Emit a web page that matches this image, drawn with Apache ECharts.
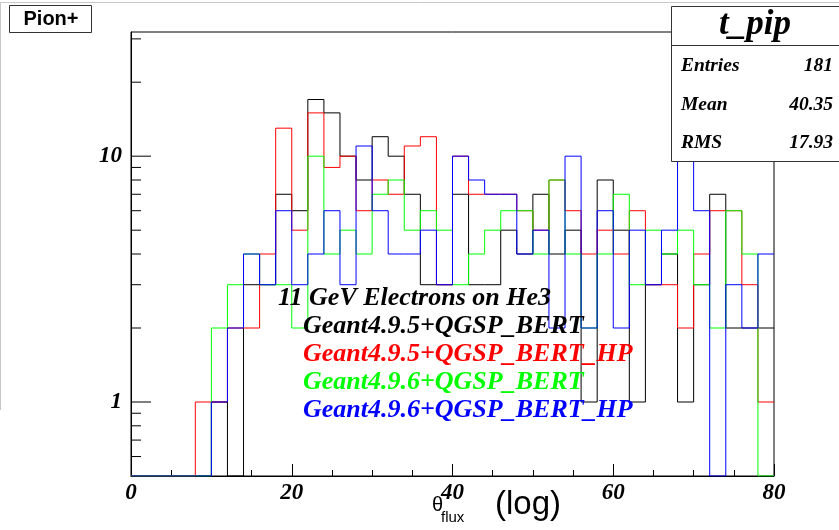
<!DOCTYPE html>
<html><head><meta charset="utf-8">
<script src="https://cdn.jsdelivr.net/npm/echarts@6/dist/echarts.min.js"></script>
<style>html,body{margin:0;padding:0;background:#fff}#c{width:839px;height:530px}</style>
</head><body><div id="c"></div>
<script>
// bin lower edges (bin width 2) and upper limit
const binLow = [0,2,4,6,8,10,12,14,16,18,20,22,24,26,28,30,32,34,36,38,40,42,44,46,48,50,52,54,56,58,60,62,64,66,68,70,72,74,76,78];
const xMax = 80;
// bin contents
const g495Bert   = [0,0,0,0,0,1,0,3,3,7,6,17,15,10,8,12,10,7,3,3,7,3,3,5,4,7,4,5,1,8,5,1,3,4,1,3,7,2,2,2];
const g495BertHP = [0,0,0,0,1,1,2,2,4,13,5,15,9,10,6,8,7,11,12,3,10,7,7,7,6,5,8,6,4,5,4,6,3,3,2,4,6,6,3,1];
const g496Bert   = [0,0,0,0,0,2,3,4,3,3,2,10,4,5,4,7,8,5,6,5,3,4,5,6,6,4,8,4,2,4,7,3,5,4,5,3,2,6,4,0];
const g496BertHP = [0,0,0,0,0,1,2,4,3,6,3,4,6,3,11,6,4,4,5,3,10,8,7,7,4,5,2,10,2,6,2,5,3,5,10,6,0,3,2,4];
const seriesNames = ['Geant4.9.5+QGSP_BERT','Geant4.9.5+QGSP_BERT_HP','Geant4.9.6+QGSP_BERT','Geant4.9.6+QGSP_BERT_HP'];
const seriesColors = ['#000000','#ff0000','#00ff00','#0000ff'];
const xTicks = [0,20,40,60,80];
const yMin = 0.5, yMax = 32;
const yMajorTicks = [1,10];
const yMinorTicks = [0.6,0.7,0.8,0.9,2,3,4,5,6,7,8,9,20,30];
const stats = {title:'t_pip', rows:[['Entries','181'],['Mean','40.35'],['RMS','17.93']]};

function toSteps(vals){
  const pts = binLow.map((x,i)=>[x, vals[i] > 0 ? vals[i] : yMin]);
  pts.push([xMax, pts[pts.length-1][1]]);
  return pts;
}
const serif = '"Liberation Serif","Times New Roman",serif';
const sans = '"Liberation Sans",Arial,sans-serif';
const allVals = [g495Bert,g495BertHP,g496Bert,g496BertHP];
const lineSeries = allVals.map((v,i)=>({
  type:'line', name:seriesNames[i], step:'end', data:toSteps(v), symbol:'none',
  lineStyle:{color:seriesColors[i], width:1}, itemStyle:{color:seriesColors[i]},
  animation:false, z:2+i
}));
function tickSeries(vals, len){
  return {type:'custom', silent:true, animation:false, z:1, data: vals.map(v=>[0,v]),
    renderItem:(params, api)=>{
      const p = api.coord([0, api.value(1)]);
      return {type:'line', shape:{x1:p[0], y1:p[1], x2:p[0]+len, y2:p[1]}, style:{stroke:'#000', lineWidth:1}};
    }};
}
function txt(x,y,text,font,color,align){
  return {type:'text', x:x, y:y, z:120, style:{text:text, font:font, fill:color||'#000',
    textAlign:align||'left', align:align||'left', textVerticalAlign:'middle', verticalAlign:'middle'}};
}
const legendFont = 'italic bold 26px ' + serif;
const graphics = [
  {type:'line', z:50, shape:{x1:0,y1:2.5,x2:839,y2:2.5}, style:{stroke:'#c8c8c8', lineWidth:1}},
  {type:'line', z:50, shape:{x1:0.5,y1:2.5,x2:0.5,y2:410}, style:{stroke:'#c8c8c8', lineWidth:1}},
  {type:'rect', z:100, shape:{x:9.5,y:5.5,width:82,height:27}, style:{fill:'#fff', stroke:'#333', lineWidth:1}},
  txt(51,19.5,'Pion+','bold 20px '+sans,'#000','center'),
  {type:'rect', z:100, shape:{x:671.5,y:6.5,width:180,height:155}, style:{fill:'#fff', stroke:'#333', lineWidth:1}},
  {type:'line', z:101, shape:{x1:671.5,y1:45.5,x2:839,y2:45.5}, style:{stroke:'#333', lineWidth:1}},
  txt(755,25,stats.title,'italic bold 35px '+serif,'#000','center'),
  txt(278,298,'11 GeV Electrons on He3',legendFont,'#000'),
  txt(303,326,seriesNames[0],legendFont,seriesColors[0]),
  txt(303,354,seriesNames[1],legendFont,seriesColors[1]),
  txt(303,382,seriesNames[2],legendFont,seriesColors[2]),
  txt(303,410,seriesNames[3],legendFont,seriesColors[3]),
  txt(432,505,'θ','20px '+sans,'#000'),
  txt(441,518,'flux','15px '+sans,'#000'),
  txt(495,505,'(log)','33px '+sans,'#000')
];
const rowY = [66,105,143];
stats.rows.forEach((r,i)=>{
  graphics.push(txt(681,rowY[i],r[0],'italic bold 19.5px '+serif,'#000','left'));
  graphics.push(txt(833,rowY[i],r[1],'italic bold 19.5px '+serif,'#000','right'));
});

const chart = echarts.init(document.getElementById('c'), null, {renderer:'canvas'});
chart.setOption({
  animation:false,
  backgroundColor:'#fff',
  grid:{left:131, right:65, top:32, bottom:54, show:true, borderColor:'#000', borderWidth:1, backgroundColor:'transparent'},
  xAxis:{type:'value', min:0, max:xMax, interval:20,
    axisLine:{lineStyle:{color:'#000', width:1}},
    axisTick:{inside:true, length:12, lineStyle:{color:'#000'}},
    minorTick:{show:true, splitNumber:4, length:6, lineStyle:{color:'#000'}},
    splitLine:{show:false},
    axisLabel:{margin:6, color:'#000', fontFamily:serif, fontStyle:'italic', fontWeight:'bold', fontSize:23,
      formatter:v=> xTicks.indexOf(v) >= 0 ? String(v) : ''}},
  yAxis:{type:'log', logBase:10, min:yMin, max:yMax,
    axisLine:{lineStyle:{color:'#000', width:1}},
    axisTick:{show:false}, splitLine:{show:false}, minorTick:{show:false},
    axisLabel:{margin:9, color:'#000', fontFamily:serif, fontStyle:'italic', fontWeight:'bold', fontSize:23,
      showMinLabel:false, showMaxLabel:false,
      formatter:v=> yMajorTicks.indexOf(Math.round(v*1000)/1000) >= 0 ? String(Math.round(v)) : ''}},
  series:[tickSeries(yMajorTicks,20), tickSeries(yMinorTicks,10)].concat(lineSeries),
  graphic:graphics
});
</script></body></html>
